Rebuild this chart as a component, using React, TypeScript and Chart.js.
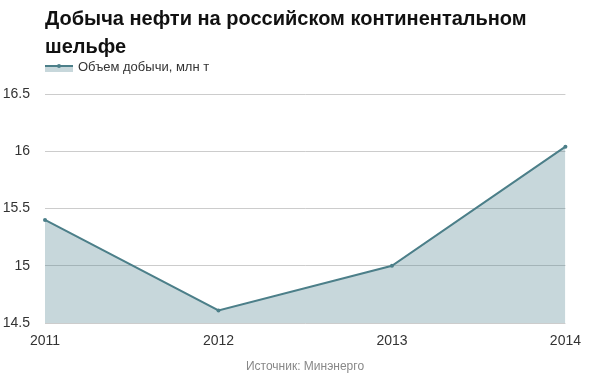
import React, { useEffect, useRef } from "react";
import { Chart, registerables } from "chart.js";

Chart.register(...registerables);

const titleLines = ["Добыча нефти на российском континентальном", "шельфе"];
const seriesName = "Объем добычи, млн т";
const sourceText = "Источник: Минэнерго";
const years = ["2011", "2012", "2013", "2014"];
const production = [15.4, 14.61, 15.0, 16.04];

const FONT = "Arial, 'Liberation Sans', sans-serif";
const LINE = "#4c7f89";
const FILL = "rgba(74,127,138,0.31)";

const decorPlugin = {
  id: "decor",
  afterDraw(chart: any) {
    const ctx = chart.ctx as CanvasRenderingContext2D;
    ctx.save();
    ctx.fillStyle = "#111";
    ctx.font = `bold 20px ${FONT}`;
    ctx.textAlign = "left";
    ctx.textBaseline = "alphabetic";
    titleLines.forEach((t, i) => ctx.fillText(t, 45, 25 + i * 28));
    ctx.fillStyle = FILL;
    ctx.fillRect(45, 66, 28, 6);
    ctx.strokeStyle = LINE;
    ctx.lineWidth = 2;
    ctx.beginPath();
    ctx.moveTo(45, 66);
    ctx.lineTo(73, 66);
    ctx.stroke();
    ctx.fillStyle = LINE;
    ctx.beginPath();
    ctx.arc(59, 66, 2, 0, Math.PI * 2);
    ctx.fill();
    ctx.fillStyle = "#333";
    ctx.font = `13px ${FONT}`;
    ctx.textBaseline = "middle";
    ctx.fillText(seriesName, 78, 67);
    ctx.fillStyle = "#888";
    ctx.font = `12px ${FONT}`;
    ctx.textAlign = "center";
    ctx.fillText(sourceText, 305, 367);
    ctx.restore();
  },
};

export default function App() {
  const ref = useRef<HTMLCanvasElement | null>(null);
  useEffect(() => {
    if (!ref.current) return;
    const chart = new Chart(ref.current, {
      type: "line",
      data: {
        labels: years,
        datasets: [
          {
            label: seriesName,
            data: production,
            borderColor: LINE,
            backgroundColor: FILL,
            borderWidth: 2,
            fill: "start",
            pointRadius: 2,
            pointBackgroundColor: LINE,
            pointBorderWidth: 0,
            tension: 0,
          },
        ],
      },
      options: {
        responsive: false,
        animation: false,
        layout: { padding: { top: 94, right: 22, left: 0, bottom: 0 } },
        plugins: {
          legend: { display: false },
          title: { display: false },
          tooltip: { enabled: false },
        },
        scales: {
          x: {
            offset: false,
            grid: { display: false, drawTicks: false },
            border: { display: false },
            ticks: {
              color: "#333",
              font: { family: FONT, size: 14 },
              padding: 10,
              maxRotation: 0,
            },
            afterFit(scale: any) {
              scale.height = 60;
            },
          },
          y: {
            min: 14.5,
            max: 16.5,
            grid: { color: "#cccccc", drawTicks: false, lineWidth: 1 },
            border: { display: false },
            ticks: {
              stepSize: 0.5,
              color: "#333",
              font: { family: FONT, size: 14 },
              padding: 15,
              callback: (v: any) => String(Number(v)),
            },
            afterFit(scale: any) {
              scale.width = 45;
            },
          },
        },
      },
      plugins: [decorPlugin],
    });
    return () => chart.destroy();
  }, []);
  return (
    <div style={{ position: "fixed", left: 0, top: 0, width: 591, height: 383, background: "#fff" }}>
      <canvas ref={ref} width={591} height={383} style={{ display: "block", width: 591, height: 383 }} />
    </div>
  );
}
